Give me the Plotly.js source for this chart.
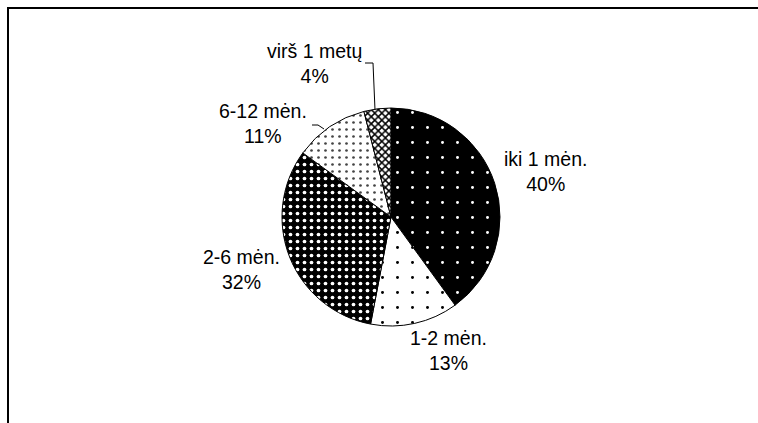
<!DOCTYPE html>
<html><head><meta charset="utf-8">
<script src="https://cdn.plot.ly/plotly-3.0.1.min.js"></script>
<style>
html,body{margin:0;padding:0;background:#fff;overflow:hidden}
#chart{width:758px;height:423px;position:absolute;left:0;top:0}
#frame{position:absolute;left:7px;top:7px;width:770px;height:440px;border-top:2px solid #000;border-left:2px solid #000;pointer-events:none}
</style>
</head><body><div id="chart"></div><div id="frame"></div>
<script>
const categories = ["iki 1 mėn.", "1-2 mėn.", "2-6 mėn.", "6-12 mėn.", "virš 1 metų"];
const shares = [40, 13, 32, 11, 4];

const W = 758, H = 423;
const px = x => x / W, py = y => 1 - y / H;

// pie placement (pixels)
const cx = 391, cy = 217, r = 109;

// fill styles per slice
const patterns = [
  {shape: ".", bgcolor: "#000000", fgcolor: "#ffffff", size: 15, solidity: 0.03},
  {shape: ".", bgcolor: "#ffffff", fgcolor: "#000000", size: 15, solidity: 0.03},
  {shape: ".", bgcolor: "#000000", fgcolor: "#ffffff", size: 7, solidity: 0.22},
  {shape: ".", bgcolor: "#ffffff", fgcolor: "#444444", size: 7, solidity: 0.12},
  {shape: "x", bgcolor: "#ffffff", fgcolor: "#000000", size: 5, solidity: 0.5}
];

// label block centres (pixels)
const labelPos = [[545, 171], [448, 350], [241, 269], [263, 124], [314, 63]];

const total = shares.reduce((a, b) => a + b, 0);

const trace = {
  type: "pie",
  labels: categories,
  values: shares,
  sort: false,
  direction: "clockwise",
  rotation: 0,
  textinfo: "none",
  hoverinfo: "label+percent",
  showlegend: false,
  domain: {x: [px(cx - r), px(cx + r)], y: [py(cy + r), py(cy - r)]},
  marker: {
    colors: patterns.map(p => p.bgcolor),
    pattern: {
      shape: patterns.map(p => p.shape),
      bgcolor: patterns.map(p => p.bgcolor),
      fgcolor: patterns.map(p => p.fgcolor),
      size: patterns.map(p => p.size),
      solidity: patterns.map(p => p.solidity),
      fillmode: "replace"
    },
    line: {color: "#000000", width: 1}
  }
};

const annotations = categories.map((c, i) => ({
  xref: "paper", yref: "paper",
  x: px(labelPos[i][0]), y: py(labelPos[i][1]),
  xanchor: "center", yanchor: "middle",
  text: c + "<br>" + Math.round(shares[i] / total * 100) + "%",
  showarrow: false,
  font: {family: "Liberation Sans, Arial, sans-serif", size: 19.5, color: "#000"}
}));

const leaderLines = [
  [[365, 63], [373, 63], [375, 110]],
  [[312, 125], [318, 125], [324, 129]]
];
const shapes = leaderLines.map(pts => ({
  type: "path", xref: "paper", yref: "paper",
  path: pts.map((p, j) => (j ? "L" : "M") + px(p[0]) + "," + py(p[1])).join(" "),
  line: {color: "#000", width: 1}
}));

const layout = {
  width: W, height: H,
  margin: {l: 0, r: 0, t: 0, b: 0},
  paper_bgcolor: "#ffffff",
  plot_bgcolor: "#ffffff",
  annotations: annotations,
  shapes: shapes
};

Plotly.newPlot("chart", [trace], layout, {displayModeBar: false, staticPlot: true});
</script>
</body></html>
